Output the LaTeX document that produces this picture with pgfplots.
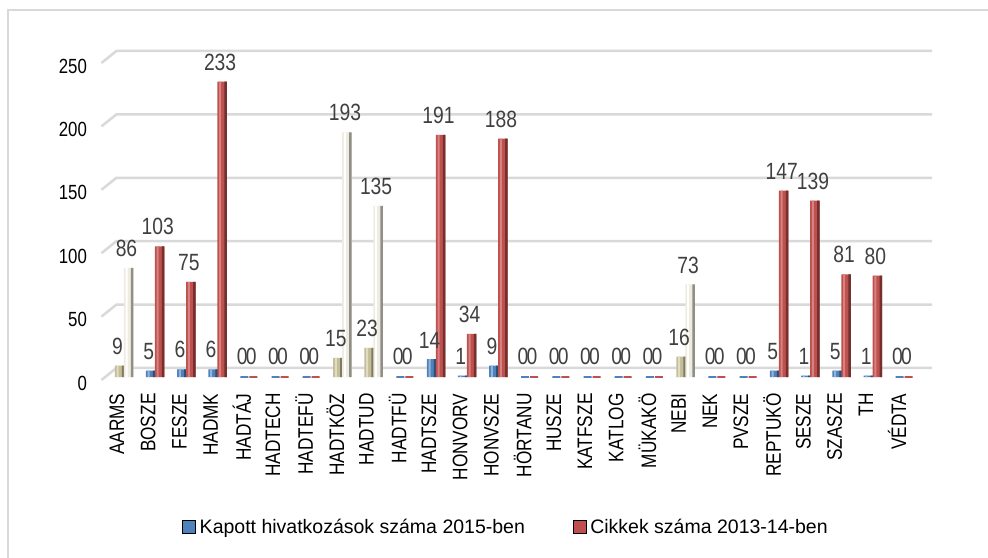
\documentclass[border=0pt]{standalone}
\usepackage{pgfplots}
\usepackage{pgfplotstable}
\pgfplotsset{compat=1.18}
\usepackage{fontspec}
\setmainfont{Liberation Sans}
\newfontfamily\narrowfont{Liberation Sans}[FakeStretch=0.82]
\definecolor{blueC}{HTML}{4F81BD}
\definecolor{redC}{HTML}{C0504D}
\definecolor{beigeC}{HTML}{C4BD97}
\definecolor{creamC}{HTML}{EEECE1}
\definecolor{gridC}{HTML}{D9D9D9}
\definecolor{lblC}{HTML}{404040}
% Kapott hivatkozasok 2015 (blue)
\pgfplotstableread{
x y
1 5
2 6
3 6
10 14
11 1
12 9
21 5
22 1
23 5
24 1
}\bluedata
% same series, highlighted categories
\pgfplotstableread{
x y
0 9
7 15
8 23
18 16
}\beigedata
% Cikkek 2013-14 (red)
\pgfplotstableread{
x y
1 103
2 75
3 233
10 191
11 34
12 188
21 147
22 139
23 81
24 80
}\reddata
\pgfplotstableread{
x y
0 86
7 193
8 135
18 73
}\creamdata
\pgfplotstableread{
x y
4 0
5 0
6 0
9 0
13 0
14 0
15 0
16 0
17 0
19 0
20 0
25 0
}\zerodata
\begin{document}
\begin{tikzpicture}
\useasboundingbox (0,0) rectangle (988bp,558bp);
\fill[white] (0,0) rectangle (988bp,558bp);
\draw[gridC, line width=2bp] (8bp,0) -- (8bp,548bp) -- (988bp,548bp);
\begin{axis}[
  at={(101.4bp,181bp)}, anchor=south west,
  scale only axis, width=811.2bp, height=317bp,
  xmin=-0.5, xmax=25.5, ymin=0, ymax=250,
  clip=false,
  axis line style={draw=none},
  major tick length=0pt,
  xtick={0,...,25},
  xticklabels={AARMS,BOSZE,FESZE,HADMK,HADTÁJ,HADTECH,HADTEFÜ,HADTKÖZ,HADTUD,HADTFÜ,HADTSZE,HONVORV,HONVSZE,HÖRTANU,HUSZE,KATFSZE,KATLOG,MÜKAKÖ,NEBI,NEK,PVSZE,REPTUKÖ,SESZE,SZASZE,TH,VÉDTA},
  ytick={0,50,100,150,200,250},
  /pgf/number format/assume math mode=true,
  xticklabel style={rotate=90, anchor=east, font=\narrowfont\fontsize{21bp}{21bp}\selectfont},
  xticklabel shift=13bp,
  yticklabel style={font=\narrowfont\fontsize{20.5bp}{21bp}\selectfont, xshift=-11bp, yshift=-6bp},
  every node near coord/.append style={font=\narrowfont\fontsize{23.5bp}{24bp}\selectfont, text=lblC, inner sep=0pt, anchor=south, yshift=11bp},
  legend image code/.code={\fill[#1] (0bp,-6.5bp) rectangle (13bp,6.5bp);},
  legend style={at={(axis description cs:0.4988,-0.473)}, anchor=center, draw=none, fill=none,
    legend columns=2, font=\fontsize{19.5bp}{20bp}\selectfont,
    /tikz/every odd column/.append style={column sep=2bp},
    /tikz/every even column/.append style={column sep=46bp}},
  legend cell align=left,
  bl/.style={ybar, bar width=9.5bp, bar shift=2.5bp, draw=none, forget plot},
  rd/.style={ybar, bar width=9.5bp, bar shift=11.5bp, draw=none, forget plot},
  shadowL/.style={ybar, bar width=2.5bp, bar shift=6bp, draw=none, forget plot},
  hiL/.style={ybar, bar width=2bp, bar shift=0.5bp, draw=none, forget plot},
  shadowR/.style={ybar, bar width=2.5bp, bar shift=15bp, draw=none, forget plot},
  hiR/.style={ybar, bar width=2bp, bar shift=9.5bp, draw=none, forget plot},
  lblL/.style={nodes near coords, every node near coord/.append style={xshift=0.5bp}},
  lblR/.style={nodes near coords, every node near coord/.append style={xshift=9.5bp}},
]
\pgfplotsinvokeforeach{0,50,100,150,200,250}{
  \draw[gridC, line width=2.5bp] ([yshift=-3bp]axis cs:-0.5,#1) -- ([xshift=15bp,yshift=9bp]axis cs:-0.5,#1) -- ([xshift=19.4bp,yshift=9bp]axis cs:25.5,#1);
}
% blue bars
\addplot[bl, fill=blueC, lblL] table[x=x,y=y] {\bluedata};
\addplot[hiL, fill=blueC!60!white] table[x=x,y=y] {\bluedata};
\addplot[shadowL, fill=blueC!60!black] table[x=x,y=y] {\bluedata};
% beige bars
\addplot[bl, fill=beigeC, lblL] table[x=x,y=y] {\beigedata};
\addplot[hiL, fill=beigeC!55!white] table[x=x,y=y] {\beigedata};
\addplot[shadowL, fill=beigeC!65!black] table[x=x,y=y] {\beigedata};
% zero blue
\addplot[ybar, bar width=8bp, bar shift=2.5bp, draw=blueC, fill=blueC, line width=2.5bp, forget plot, lblL] table[x=x,y=y] {\zerodata};
% red bars
\addplot[rd, fill=redC, lblR] table[x=x,y=y] {\reddata};
\addplot[hiR, fill=redC!70!white] table[x=x,y=y] {\reddata};
\addplot[shadowR, fill=redC!60!black] table[x=x,y=y] {\reddata};
% cream bars
\addplot[rd, fill=creamC, lblR] table[x=x,y=y] {\creamdata};
\addplot[hiR, fill=white] table[x=x,y=y] {\creamdata};
\addplot[shadowR, fill=creamC!60!black] table[x=x,y=y] {\creamdata};
% zero red
\addplot[ybar, bar width=8bp, bar shift=11.5bp, draw=redC, fill=redC, line width=2.5bp, forget plot, lblR] table[x=x,y=y] {\zerodata};
\addlegendimage{fill=blueC}
\addlegendentry{Kapott hivatkozások száma 2015-ben}
\addlegendimage{fill=redC}
\addlegendentry{Cikkek száma 2013-14-ben}
\end{axis}
\end{tikzpicture}
\end{document}
